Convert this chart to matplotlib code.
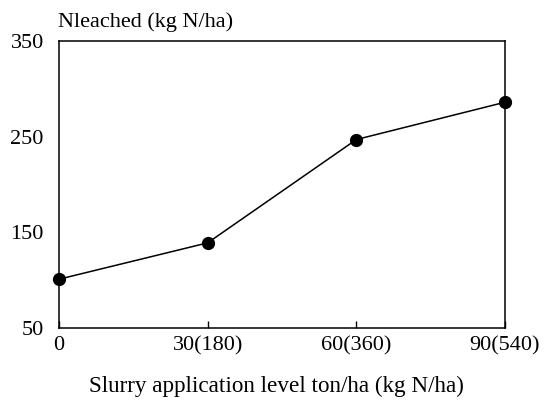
import matplotlib
matplotlib.use('Agg')
import matplotlib.pyplot as plt

### Data
levels = [0, 30, 60, 90]
level_labels = ['0', '30(180)', '60(360)', '90(540)']
n_leached = [101, 139, 247, 286]
y_ticks = [50, 150, 250, 350]

plt.rcParams['font.family'] = ['Liberation Serif', 'DejaVu Serif']
plt.rcParams['font.size'] = 16

fig = plt.figure(figsize=(5.5, 4.01), dpi=100)
ax = fig.add_axes([59/550, 1 - 328/401, (505-59)/550, (328-41)/401])

ax.plot(levels, n_leached, color='black', lw=1.1, marker='o', ms=8.5,
        clip_on=False, zorder=3)

ax.set_xlim(0, 90)
ax.set_ylim(50, 350)
ax.set_xticks(levels)
ax.set_xticklabels(level_labels)
ax.set_yticks(y_ticks)
ax.tick_params(axis='x', direction='in', length=5, width=1, pad=6)
ax.tick_params(axis='y', length=0, pad=11)
for s in ax.spines.values():
    s.set_linewidth(1.1)

### Axis titles placed as figure text to match the reference positions
fig.text(276/550, 1 - 386/401, 'Slurry application level ton/ha (kg N/ha)',
         ha='center', va='center', fontsize=16.7)
fig.text(58/550, 1 - 22/401, 'Nleached (kg N/ha)', ha='left', va='center')

fig.savefig('out.png', dpi=100)
